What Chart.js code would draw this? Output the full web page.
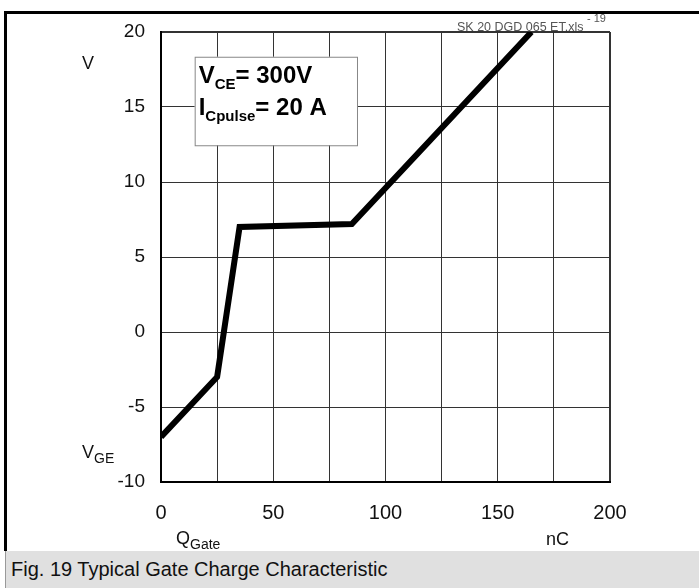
<!DOCTYPE html>
<html>
<head>
<meta charset="utf-8">
<script src="https://cdn.jsdelivr.net/npm/chart.js@4/dist/chart.umd.min.js"></script>
<style>
  body { margin: 0; background: #fff; }
  #wrap { position: relative; width: 699px; height: 588px; overflow: hidden; font-family: "Liberation Sans", Arial, sans-serif; }
  #frame { position: absolute; left: 4px; top: 11px; width: 695px; height: 540px; border-left: 3px solid #000; border-top: 3px solid #000; box-sizing: border-box; }
  #cap { position: absolute; left: 5px; top: 551px; width: 694px; height: 37px; background: #e0e0e0; border-left: 1px solid #999; font-size: 20px; line-height: 36px; padding-left: 5px; box-sizing: border-box; color: #111; }
  canvas { position: absolute; left: 0; top: 0; }
</style>
</head>
<body>
<div id="wrap">
  <div id="frame"></div>
  <canvas id="chartId" width="699" height="551"></canvas>
  <div id="cap">Fig. 19 Typical Gate Charge Characteristic</div>
</div>
<script>
// gate charge curve
const qGate = [0, 25, 35, 85, 165];
const vGE = [-7, -3, 7, 7.2, 20];

const xTickLabels = [0, 50, 100, 150, 200];
const yTickLabels = [-10, -5, 0, 5, 10, 15, 20];

const FONT = '"Liberation Sans", Arial, sans-serif';

// text with a subscript, returns end x
function subText(ctx, x, y, main, sub, rest, size, subSize, weight) {
  ctx.font = weight + ' ' + size + 'px ' + FONT;
  ctx.fillText(main, x, y);
  x += ctx.measureText(main).width;
  ctx.font = weight + ' ' + subSize + 'px ' + FONT;
  ctx.fillText(sub, x, y + size * 0.25);
  x += ctx.measureText(sub).width;
  if (rest) {
    ctx.font = weight + ' ' + size + 'px ' + FONT;
    ctx.fillText(rest, x, y);
    x += ctx.measureText(rest).width;
  }
  return x;
}

const extras = {
  id: 'extras',
  afterDatasetsDraw(chart) {
    const ctx = chart.ctx;
    const xs = chart.scales.x, ys = chart.scales.y;
    ctx.save();
    // condition box
    const bx = xs.getPixelForValue(15), bx2 = xs.getPixelForValue(87.3);
    const by = ys.getPixelForValue(18.35), by2 = ys.getPixelForValue(12.45);
    ctx.fillStyle = '#fff';
    ctx.fillRect(bx, by, bx2 - bx, by2 - by);
    ctx.strokeStyle = '#888';
    ctx.lineWidth = 1;
    ctx.strokeRect(bx + 0.5, by + 0.5, bx2 - bx, by2 - by);
    ctx.fillStyle = '#000';
    ctx.textBaseline = 'alphabetic';
    ctx.textAlign = 'left';
    subText(ctx, bx + 4, by + 26, 'V', 'CE', '= 300V', 24, 15, 'bold');
    subText(ctx, bx + 4, by + 58, 'I', 'Cpulse', '= 20 A', 24, 15, 'bold');

    // axis names
    ctx.fillStyle = '#111';
    ctx.font = '18px ' + FONT;
    ctx.fillText('V', 82, 69);
    subText(ctx, 82, 458, 'V', 'GE', '', 18, 14, 'normal');
    subText(ctx, 176, 544, 'Q', 'Gate', '', 18, 14, 'normal');
    ctx.font = '18px ' + FONT;
    ctx.fillText('nC', 546, 545);

    // file tag
    ctx.fillStyle = '#555';
    ctx.font = '12.5px ' + FONT;
    ctx.fillText('SK 20 DGD 065 ET.xls', 457, 31);
    ctx.font = '11px ' + FONT;
    ctx.fillText('- 19', 587, 22);
    ctx.restore();
  }
};

new Chart(document.getElementById('chartId').getContext('2d'), {
  type: 'line',
  data: {
    datasets: [{
      data: qGate.map((q, i) => ({ x: q, y: vGE[i] })),
      borderColor: '#000',
      borderWidth: 6,
      borderJoinStyle: 'miter',
      pointRadius: 0,
      tension: 0,
      fill: false
    }]
  },
  options: {
    responsive: false,
    animation: false,
    layout: { padding: { left: 0, right: 89, top: 32, bottom: 0 } },
    plugins: { legend: { display: false }, tooltip: { enabled: false } },
    scales: {
      x: {
        type: 'linear',
        min: 0, max: 200,
        afterFit: s => { s.height = 69; },
        grid: {
          color: '#333',
          lineWidth: c => (c.tick && c.tick.value === 200 ? 2 : 1),
          drawTicks: false
        },
        border: { display: true, color: '#000', width: 2 },
        ticks: {
          stepSize: 25,
          padding: 19,
          color: '#111',
          font: { family: FONT, size: 20 },
          callback: v => (xTickLabels.includes(v) ? String(v) : '')
        }
      },
      y: {
        min: -10, max: 20,
        afterFit: s => { s.width = 161; },
        grid: {
          color: '#333',
          lineWidth: c => (c.tick && c.tick.value === 20 ? 2 : 1),
          drawTicks: false
        },
        border: { display: true, color: '#000', width: 2 },
        ticks: {
          stepSize: 5,
          padding: 16,
          color: '#111',
          font: { family: FONT, size: 19 },
          callback: v => (yTickLabels.includes(v) ? String(v) : '')
        }
      }
    }
  },
  plugins: [extras]
});
</script>
</body>
</html>
